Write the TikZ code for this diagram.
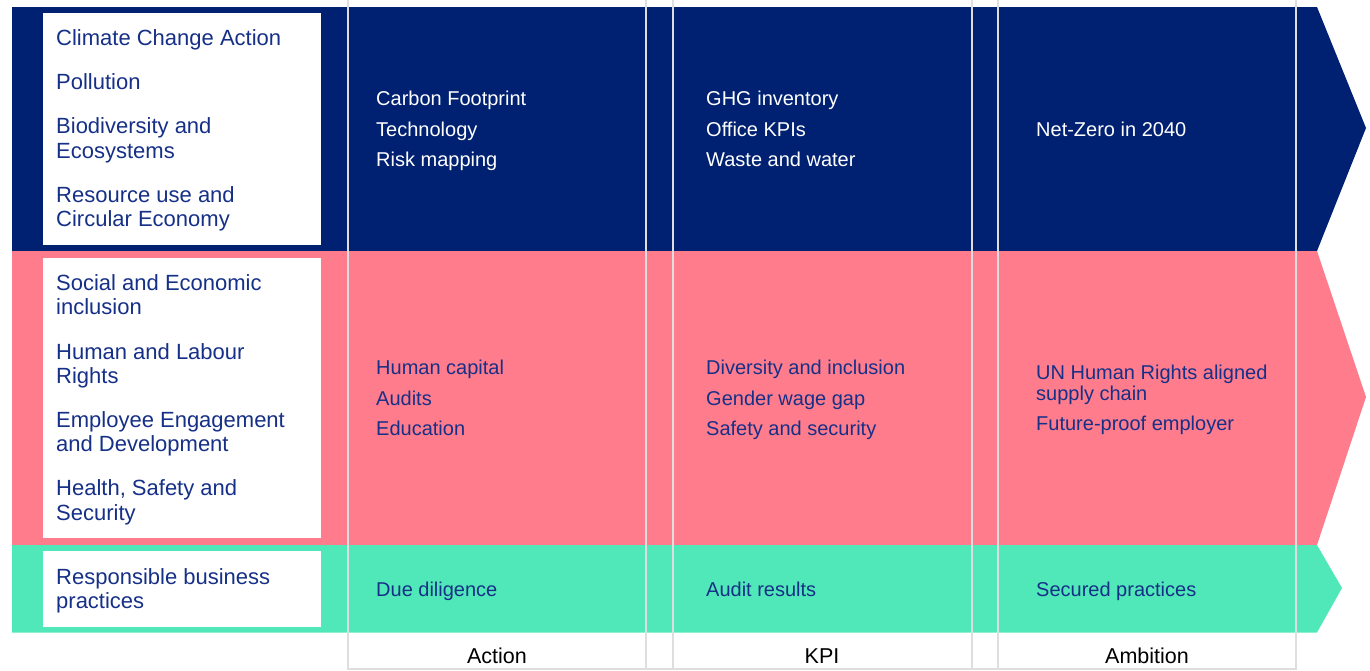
\documentclass[tikz,border=0pt]{standalone}
\usepackage{fontspec}
\setmainfont{Liberation Sans}
\definecolor{navy}{RGB}{0,33,113}
\definecolor{pinkc}{RGB}{255,124,140}
\definecolor{greenc}{RGB}{80,232,184}
\definecolor{txtnavy}{RGB}{22,48,135}
\definecolor{linegray}{RGB}{222,222,222}
\tikzset{
  lefttxt/.style={anchor=west, align=left, inner sep=0pt, text=txtnavy, font=\fontsize{22}{24.5}\selectfont},
  leftone/.style={lefttxt, text height=15.8pt, text depth=4.6pt},
  colbase/.style={anchor=west, align=left, inner sep=0pt, font=\fontsize{20}{21}\selectfont},
  colw/.style={colbase, text=white, text height=14.4pt, text depth=4.2pt},
  coln/.style={colbase, text=txtnavy, text height=14.4pt, text depth=4.2pt},
  coltwo/.style={colbase, text=txtnavy},
  bottomlbl/.style={anchor=center, inner sep=0pt, text=black, font=\fontsize{21.5}{24}\selectfont},
  vline/.style={draw=linegray, line width=2pt},
  whitebox/.style={fill=white}
}
\begin{document}
\begin{tikzpicture}[x=1pt,y=-1pt]
\useasboundingbox (0,0) rectangle (1370,670);
% bands
\fill[navy] (12,7) -- (1317,7) -- (1366,128) -- (1317,251) -- (12,251) -- cycle;
\fill[pinkc] (12,251) -- (1317,251) -- (1366,397) -- (1317,545) -- (12,545) -- cycle;
\fill[greenc] (12,545) -- (1317,545) -- (1342,588) -- (1317,632.5) -- (12,632.5) -- cycle;
% white boxes
\fill[whitebox] (43,13) rectangle (321,245);
\fill[whitebox] (43,257.5) rectangle (321,538);
\fill[whitebox] (43,551) rectangle (321,626.5);
% vertical lines
\foreach \x in {348,646,673,972,998,1296} \draw[vline] (\x,0) -- (\x,670);
\draw[vline] (348,668.5) -- (1296,668.5);
% left texts
\node[leftone] (l1) at (56,40) {Climate Change Action};
\node[leftone] (l2) at (56,84) {Pollution};
\node[lefttxt] (l3) at (56,140.5) {Biodiversity and\\Ecosystems};
\node[lefttxt] (l4) at (56,209) {Resource use and\\Circular Economy};
\node[lefttxt] (l5) at (56,297) {Social and Economic\\inclusion\vphantom{g}};
\node[lefttxt] (l6) at (56,366) {Human and Labour\\Rights};
\node[lefttxt] (l7) at (56,434) {Employee Engagement\\and Development};
\node[lefttxt] (l8) at (56,502.5) {Health, Safety and\\Security};
\node[lefttxt] (l9) at (56,591) {Responsible business\\practices};
% action column
\node[colw] (a1) at (376,100) {Carbon Footprint};
\node[colw] (a2) at (376,131) {Technology};
\node[colw] (a3) at (376,161) {Risk mapping};
\node[coln] (a4) at (376,369) {Human capital};
\node[coln] (a5) at (376,400) {Audits};
\node[coln] (a6) at (376,430) {Education};
\node[coln] (a7) at (376,591) {Due diligence};
% KPI column
\node[colw] (k1) at (706,100) {GHG inventory};
\node[colw] (k2) at (706,131) {Office KPIs};
\node[colw] (k3) at (706,161) {Waste and water};
\node[coln] (k4) at (706,369) {Diversity and inclusion};
\node[coln] (k5) at (706,400) {Gender wage gap};
\node[coln] (k6) at (706,430) {Safety and security};
\node[coln] (k7) at (706,591) {Audit results};
% ambition column
\node[colw] (m1) at (1036,131) {Net-Zero in 2040};
\node[coltwo] (m2) at (1036,384.5) {UN Human Rights aligned\\supply chain};
\node[coln] (m3) at (1036,425) {Future-proof employer};
\node[coln] (m4) at (1036,591) {Secured practices};
% bottom labels
\node[bottomlbl] (b1) at (497,656) {Action};
\node[bottomlbl] (b2) at (822,656) {KPI};
\node[bottomlbl] (b3) at (1147,656) {Ambition};
\end{tikzpicture}
\end{document}
